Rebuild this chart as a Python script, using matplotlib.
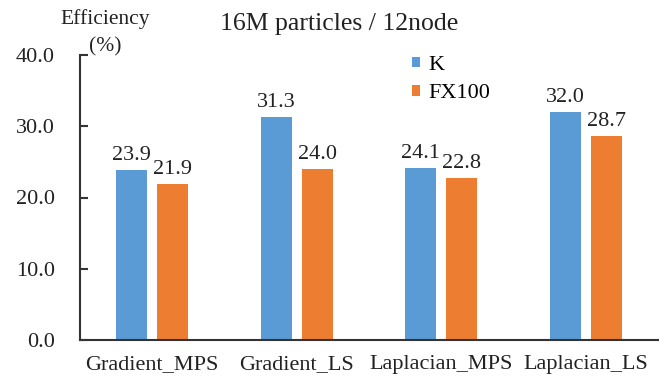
import numpy as np
import matplotlib.pyplot as plt

categories = ['Gradient_MPS', 'Gradient_LS', 'Laplacian_MPS', 'Laplacian_LS']
k_values = [23.9, 31.3, 24.1, 32.0]
fx100_values = [21.9, 24.0, 22.8, 28.7]
series_names = ['K', 'FX100']

plt.rcParams['font.family'] = ['Liberation Serif', 'DejaVu Serif']

fig = plt.figure(figsize=(6.66, 3.78), dpi=100)
ax = fig.add_axes([80/666, 1 - 340/378, 578/666, 285/378])

x = np.arange(len(categories))
w = 0.215
off = 0.1425
b1 = ax.bar(x - off, k_values, w, color='#5B9BD5', label=series_names[0])
b2 = ax.bar(x + off, fx100_values, w, color='#ED7D31', label=series_names[1])
for bars, vals in ((b1, k_values), (b2, fx100_values)):
    for b, v in zip(bars, vals):
        ax.text(b.get_x() + b.get_width()/2, v + 0.7, '%.1f' % v,
                ha='center', va='bottom', fontsize=16, color='#222222')

ax.set_xlim(-0.5, 3.5)
ax.set_ylim(0, 40)
ax.set_yticks([0, 10, 20, 30, 40])
ax.set_yticklabels(['%.1f' % t for t in [0, 10, 20, 30, 40]])
ax.set_xticks(x)
ax.set_xticklabels(categories)
ax.tick_params(axis='y', direction='in', length=6, width=1.5, labelsize=16, pad=18,
               colors='#333333', labelcolor='#222222')
ax.tick_params(axis='x', length=0, labelsize=16, pad=11, labelcolor='#222222')
for s in ['top', 'right']:
    ax.spines[s].set_visible(False)
for s in ['left', 'bottom']:
    ax.spines[s].set_linewidth(1.5)
    ax.spines[s].set_color('#333333')

fig.text(339/666, 1 - 30/378, '16M particles / 12node', ha='center', va='baseline',
         fontsize=18.5, color='#222222')
fig.text(105/666, 1 - 24/378, 'Efficiency', ha='center', va='baseline', fontsize=15.5,
         color='#222222')
fig.text(105/666, 1 - 51/378, '(%)', ha='center', va='baseline', fontsize=15.5,
         color='#222222')

ax.legend(loc='upper left', bbox_to_anchor=(412/666, 1 - 56/378), bbox_transform=fig.transFigure,
          frameon=False, fontsize=16, handlelength=0.36, handleheight=0.36,
          handletextpad=0.36, labelspacing=0.42, borderpad=0, borderaxespad=0)

fig.savefig('out.png', dpi=100)
